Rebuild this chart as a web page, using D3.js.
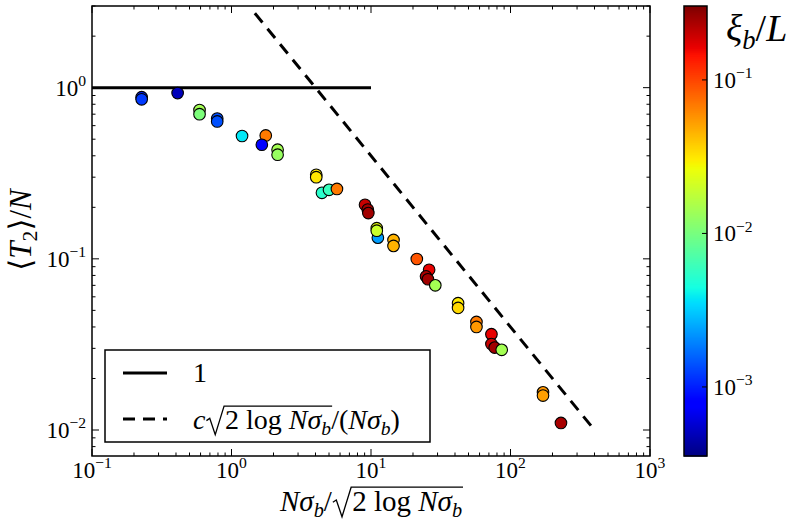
<!DOCTYPE html>
<html><head><meta charset="utf-8">
<script src="https://cdn.jsdelivr.net/npm/d3@7"></script>
<style>html,body{margin:0;padding:0;background:#fff;}svg{display:block;}</style>
</head><body>
<svg id="chart" width="796" height="523"></svg>
<script>
// ---- data ----
const xVals = [0.227, 0.227, 0.411, 0.59, 0.59, 0.79, 0.79, 1.19, 1.76, 1.65, 2.14, 2.14,
  4.05, 4.05, 4.45, 5.0, 5.7, 9.06, 9.48, 9.57, 11.2, 11.0, 11.0, 14.5, 14.5, 21.3,
  26.1, 24.8, 25.6, 28.9, 42.1, 42.1, 57, 57, 73, 73, 77, 86.5, 171, 171, 230];
const yVals = [0.880, 0.855, 0.93, 0.74, 0.70, 0.66, 0.635, 0.522, 0.526, 0.464, 0.434, 0.406,
  0.31, 0.30, 0.243, 0.253, 0.256, 0.207, 0.194, 0.185, 0.133, 0.151, 0.146, 0.129, 0.119, 0.0998,
  0.0863, 0.079, 0.076, 0.070, 0.0551, 0.0517, 0.0428, 0.040, 0.0363, 0.0318, 0.0303, 0.0294, 0.0166, 0.0159, 0.0110];
const xiVals = [1.05e-3, 1.2e-3, 5.0e-4, 1.45e-2, 1.04e-2, 1.37e-3, 1.4e-3, 3.8e-3, 6.9e-2, 8.0e-4, 1.45e-2, 1.3e-2,
  3.05e-2, 3.2e-2, 5.3e-3, 6.0e-3, 6.9e-2, 0.2, 0.25, 0.25, 2.35e-3, 2.6e-2, 2.0e-2, 4.6e-2, 4.6e-2, 9.0e-2,
  0.165, 0.24, 0.25, 1.45e-2, 3.05e-2, 3.5e-2, 6.9e-2, 5.6e-2, 0.165, 0.2, 0.25, 1.45e-2, 5.6e-2, 5.3e-2, 0.24];
const cConst = 4;
const fitX = [1.47, 390];
const unitX = [0.1, 10];
const xTickVals = [0.1, 1, 10, 100, 1000];
const xTickExp = ["\u22121", "0", "1", "2", "3"];
const yTickVals = [0.01, 0.1, 1];
const yTickExp = ["\u22122", "\u22121", "0"];
const cTickVals = [1e-3, 1e-2, 1e-1];
const cTickExp = ["\u22123", "\u22122", "\u22121"];

// ---- layout ----
const L = 92, R = 650, T = 6, B = 456;
const svg = d3.select("#chart");
const FONT = "'Liberation Serif','DejaVu Serif',serif";

const x = d3.scaleLog().domain([0.1, 1000]).range([L, R]);
const y = d3.scaleLog().domain([0.00705, 3]).range([B, T]);
const c = d3.scaleLog().domain([3.55e-4, 0.303]).range([B, T]);

// jet colormap
const jr = d3.scaleLinear().domain([0, 0.35, 0.66, 0.89, 1]).range([0, 0, 1, 1, 0.5]).clamp(true);
const jg = d3.scaleLinear().domain([0, 0.125, 0.375, 0.64, 0.91, 1]).range([0, 0, 1, 1, 0, 0]).clamp(true);
const jb = d3.scaleLinear().domain([0, 0.11, 0.34, 0.65, 1]).range([0.5, 1, 1, 0, 0]).clamp(true);
function jet(t) { return d3.rgb(jr(t) * 255, jg(t) * 255, jb(t) * 255).formatHex(); }
const cNorm = d3.scaleLog().domain(c.domain()).range([0, 1]).clamp(true);
const colorOf = v => jet(cNorm(v));

// math text helper (supports italic, sub, sup, and a drawn radical with overline)
function mathText(parent, px, py, segs, size, anchor, rot) {
  const t = parent.append("text").attr("font-family", FONT).attr("font-size", size)
    .attr("text-anchor", anchor || "start").attr("fill", "#000");
  if (rot) t.attr("transform", `translate(${px},${py}) rotate(${rot})`).attr("x", 0).attr("y", 0);
  else t.attr("x", px).attr("y", py);
  let cur = 0, idx = 0; const overs = []; let radIdx = -1;
  segs.forEach(s => {
    let target = 0, fs = size;
    if (s.sub) { target = size * 0.2; fs = size * 0.7; }
    if (s.sup) { target = -size * 0.42; fs = size * 0.68; }
    const txt = s.rad ? "\u2002\u2009" : s.t;
    const sp = t.append("tspan").text(txt).attr("font-size", fs).attr("dy", target - cur);
    cur = target;
    if (s.i) sp.attr("font-style", "italic");
    if (s.rad) radIdx = idx;
    if (s.over) overs.push([idx, idx + txt.length - 1]);
    idx += txt.length;
  });
  if (radIdx >= 0 && overs.length) {
    const n = t.node();
    const r0 = n.getStartPositionOfChar(radIdx).x;
    const r1 = n.getEndPositionOfChar(radIdx + 1).x;
    let b = -Infinity;
    overs.forEach(([i0, i1]) => { b = Math.max(b, n.getEndPositionOfChar(i1).x); });
    const w = r1 - r0;
    const top = py - size * 0.82, bot = py + size * 0.2;
    const p = d3.path();
    p.moveTo(r0 + w * 0.05, py - size * 0.30);
    p.lineTo(r0 + w * 0.22, py - size * 0.38);
    p.lineTo(r0 + w * 0.50, bot);
    p.lineTo(r0 + w * 0.95, top);
    p.lineTo(b + 1, top);
    parent.append("path").attr("d", p.toString()).attr("fill", "none")
      .attr("stroke", "#000").attr("stroke-width", 1.3).attr("stroke-linejoin", "miter");
  }
  return t;
}

// clip
svg.append("defs").append("clipPath").attr("id", "clip")
  .append("rect").attr("x", L).attr("y", T).attr("width", R - L).attr("height", B - T);

// lines
const plot = svg.append("g").attr("clip-path", "url(#clip)");
const lineGen = d3.line().x(d => x(d[0])).y(d => y(d[1]));
plot.append("path").attr("d", lineGen(unitX.map(v => [v, 1])))
  .attr("fill", "none").attr("stroke", "#000").attr("stroke-width", 3);
plot.append("path").attr("d", lineGen(fitX.map(v => [v, cConst / v])))
  .attr("fill", "none").attr("stroke", "#000").attr("stroke-width", 3)
  .attr("stroke-dasharray", "12,8");

// points
plot.selectAll("circle.pt").data(xVals.map((v, i) => ({ x: v, y: yVals[i], c: xiVals[i] })))
  .enter().append("circle").attr("class", "pt")
  .attr("cx", d => x(d.x)).attr("cy", d => y(d.y)).attr("r", 5.8)
  .attr("fill", d => colorOf(d.c)).attr("stroke", "#000").attr("stroke-width", 1.1);

// ticks (inward, all sides)
const tk = svg.append("g").attr("stroke", "#000").attr("stroke-width", 1);
const major = 7, minor = 3.5;
function minorsLog(dom) {
  const out = [];
  for (let e = Math.floor(Math.log10(dom[0])); e <= Math.ceil(Math.log10(dom[1])); e++)
    for (let m = 1; m <= 9; m++) { const v = m * Math.pow(10, e); if (v >= dom[0] * 0.9999 && v <= dom[1] * 1.0001) out.push(v); }
  return out;
}
minorsLog(x.domain()).forEach(v => {
  const len = xTickVals.some(t => Math.abs(t - v) / t < 1e-9) ? major : minor;
  const px = x(v);
  tk.append("line").attr("x1", px).attr("x2", px).attr("y1", B).attr("y2", B - len);
  tk.append("line").attr("x1", px).attr("x2", px).attr("y1", T).attr("y2", T + len);
});
minorsLog(y.domain()).forEach(v => {
  const len = yTickVals.some(t => Math.abs(t - v) / t < 1e-9) ? major : minor;
  const py = y(v);
  tk.append("line").attr("x1", L).attr("x2", L + len).attr("y1", py).attr("y2", py);
  tk.append("line").attr("x1", R).attr("x2", R - len).attr("y1", py).attr("y2", py);
});

// frame
svg.append("rect").attr("x", L).attr("y", T).attr("width", R - L).attr("height", B - T)
  .attr("fill", "none").attr("stroke", "#000").attr("stroke-width", 1.5);

// tick labels
const TS = 23;
xTickVals.forEach((v, i) => {
  mathText(svg, x(v), 478, [{ t: "10" }, { t: xTickExp[i], sup: true }], TS, "middle");
});
yTickVals.forEach((v, i) => {
  mathText(svg, 86, y(v) + 8, [{ t: "10" }, { t: yTickExp[i], sup: true }], TS, "end");
});

// axis labels
mathText(svg, 371, 511, [
  { t: "N", i: 1 }, { t: "\u03c3", i: 1 }, { t: "b", i: 1, sub: 1 }, { t: "/" }, { rad: 1 },
  { t: "2 log ", over: 1 }, { t: "N", i: 1, over: 1 }, { t: "\u03c3", i: 1, over: 1 }, { t: "b", i: 1, sub: 1, over: 1 }
], 29, "middle");
mathText(svg, 31, 230, [
  { t: "\u27e8" }, { t: "T", i: 1 }, { t: "2", sub: 1 }, { t: "\u27e9/" }, { t: "N", i: 1 }
], 31, "middle", -90);

// legend
const lg = svg.append("g");
lg.append("rect").attr("x", 105).attr("y", 350).attr("width", 325).attr("height", 92)
  .attr("fill", "#fff").attr("stroke", "#000").attr("stroke-width", 1.5);
lg.append("line").attr("x1", 123).attr("x2", 167).attr("y1", 373).attr("y2", 373)
  .attr("stroke", "#000").attr("stroke-width", 3);
lg.append("line").attr("x1", 123).attr("x2", 167).attr("y1", 419).attr("y2", 419)
  .attr("stroke", "#000").attr("stroke-width", 3).attr("stroke-dasharray", "12,8");
mathText(lg, 193, 382, [{ t: "1" }], 28, "start");
mathText(lg, 193, 429, [
  { t: "c", i: 1 }, { rad: 1 }, { t: "2 log ", over: 1 }, { t: "N", i: 1, over: 1 },
  { t: "\u03c3", i: 1, over: 1 }, { t: "b", i: 1, sub: 1, over: 1 }, { t: "/(" }, { t: "N", i: 1 },
  { t: "\u03c3", i: 1 }, { t: "b", i: 1, sub: 1 }, { t: ")" }
], 28, "start");

// colorbar
const CB0 = 684, CBW = 23;
const cb = svg.append("g");
const nSteps = 225;
d3.range(nSteps).forEach(k => {
  const t0 = k / nSteps;
  const yTop = B - (k + 1) * (B - T) / nSteps;
  cb.append("rect").attr("x", CB0).attr("y", yTop).attr("width", CBW)
    .attr("height", (B - T) / nSteps + 0.6).attr("fill", jet(t0 + 0.5 / nSteps));
});
cb.append("rect").attr("x", CB0).attr("y", T).attr("width", CBW).attr("height", B - T)
  .attr("fill", "none").attr("stroke", "#000").attr("stroke-width", 1.5);
cTickVals.forEach((v, i) => {
  cb.append("line").attr("x1", CB0 + CBW).attr("x2", CB0 + CBW - 5).attr("y1", c(v)).attr("y2", c(v))
    .attr("stroke", "#000").attr("stroke-width", 1);
  mathText(cb, 713, c(v) + 8, [{ t: "10" }, { t: cTickExp[i], sup: true }], TS, "start");
});
mathText(cb, 726, 41, [{ t: "\u03be", i: 1 }, { t: "b", i: 1, sub: 1 }, { t: "/" }, { t: "L", i: 1 }], 38, "start");
</script>
</body></html>
